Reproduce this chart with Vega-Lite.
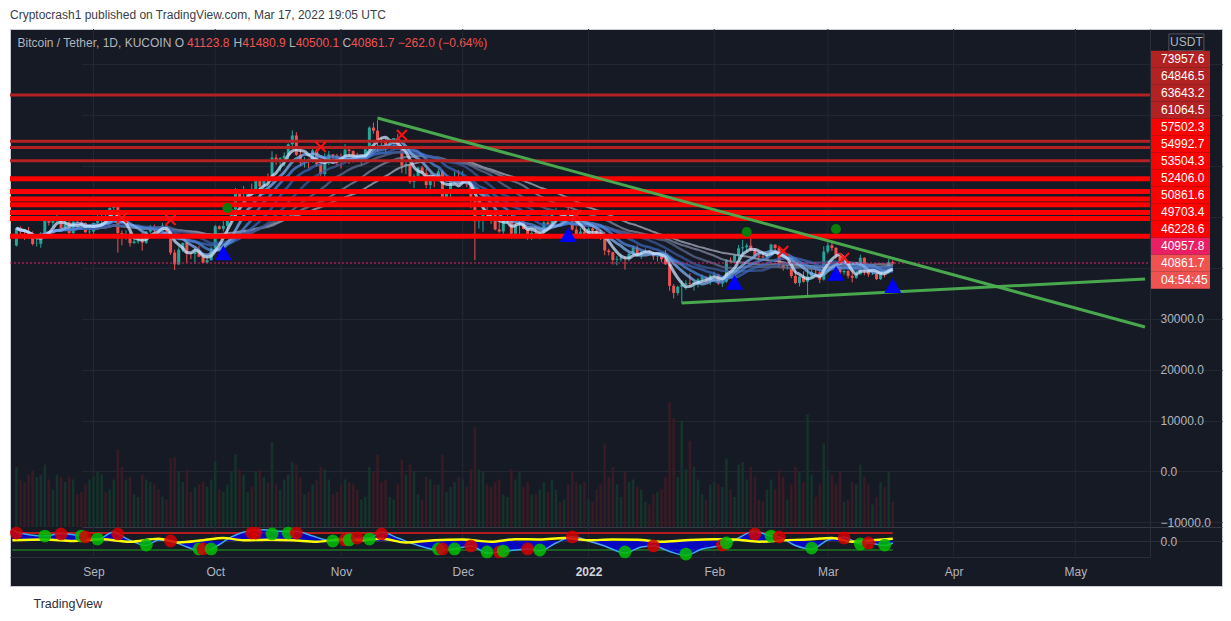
{
"$schema":"https://vega.github.io/schema/vega-lite/v6.json",
"width":1212,"height":557,
"autosize":{"type":"none"},
"padding":{"left":10,"top":29,"right":9,"bottom":35},
"background":"#ffffff",
"view":{"fill":"#161a25","stroke":"#c9ccd3","strokeWidth":1},
"config":{"font":"Liberation Sans"},
"title":{"text":"Cryptocrash1 published on TradingView.com, Mar 17, 2022 19:05 UTC","anchor":"start","frame":"group","orient":"top","offset":7,"font":"Liberation Sans","fontSize":12,"fontWeight":"normal","color":"#3a3e4a"},
"datasets":{
"k":[
{"d":"2021-08-13","o":44400,"h":47900,"l":44200,"c":47820,"v":48},
{"d":"2021-08-14","o":47820,"h":48150,"l":45980,"c":47090,"v":38},
{"d":"2021-08-15","o":47090,"h":47400,"l":45500,"c":47020,"v":36},
{"d":"2021-08-16","o":47020,"h":48050,"l":45700,"c":45930,"v":42},
{"d":"2021-08-17","o":45930,"h":47150,"l":44400,"c":44690,"v":45},
{"d":"2021-08-18","o":44690,"h":46000,"l":44200,"c":44720,"v":40},
{"d":"2021-08-19","o":44720,"h":47050,"l":43950,"c":46760,"v":42},
{"d":"2021-08-20","o":46760,"h":49350,"l":46650,"c":49320,"v":50},
{"d":"2021-08-21","o":49320,"h":49800,"l":48300,"c":48870,"v":38},
{"d":"2021-08-22","o":48870,"h":49500,"l":48000,"c":49290,"v":30},
{"d":"2021-08-23","o":49290,"h":50500,"l":49000,"c":49530,"v":42},
{"d":"2021-08-24","o":49530,"h":49850,"l":47600,"c":47700,"v":40},
{"d":"2021-08-25","o":47700,"h":49250,"l":47150,"c":48960,"v":36},
{"d":"2021-08-26","o":48960,"h":49350,"l":46350,"c":46850,"v":40},
{"d":"2021-08-27","o":46850,"h":49200,"l":46400,"c":49070,"v":38},
{"d":"2021-08-28","o":49070,"h":49300,"l":48400,"c":48900,"v":26},
{"d":"2021-08-29","o":48900,"h":49650,"l":47800,"c":48800,"v":28},
{"d":"2021-08-30","o":48800,"h":48900,"l":46900,"c":46990,"v":34},
{"d":"2021-08-31","o":46990,"h":48250,"l":46700,"c":47130,"v":38},
{"d":"2021-09-01","o":47130,"h":48850,"l":46550,"c":48830,"v":40},
{"d":"2021-09-02","o":48830,"h":50350,"l":48650,"c":49280,"v":44},
{"d":"2021-09-03","o":49280,"h":51050,"l":48400,"c":50030,"v":42},
{"d":"2021-09-04","o":50030,"h":50550,"l":49500,"c":49940,"v":28},
{"d":"2021-09-05","o":49940,"h":51900,"l":49500,"c":51790,"v":30},
{"d":"2021-09-06","o":51790,"h":52900,"l":50950,"c":52700,"v":38},
{"d":"2021-09-07","o":52700,"h":52920,"l":43000,"c":46860,"v":62},
{"d":"2021-09-08","o":46860,"h":47350,"l":44400,"c":46080,"v":48},
{"d":"2021-09-09","o":46080,"h":47400,"l":45500,"c":46400,"v":38},
{"d":"2021-09-10","o":46400,"h":47050,"l":44150,"c":44850,"v":40},
{"d":"2021-09-11","o":44850,"h":45950,"l":44750,"c":45170,"v":26},
{"d":"2021-09-12","o":45170,"h":46450,"l":44750,"c":46030,"v":24},
{"d":"2021-09-13","o":46030,"h":46850,"l":43400,"c":44950,"v":42},
{"d":"2021-09-14","o":44950,"h":47250,"l":44700,"c":47110,"v":38},
{"d":"2021-09-15","o":47110,"h":48450,"l":46750,"c":48150,"v":36},
{"d":"2021-09-16","o":48150,"h":48500,"l":47050,"c":47760,"v":34},
{"d":"2021-09-17","o":47760,"h":48150,"l":46800,"c":47300,"v":30},
{"d":"2021-09-18","o":47300,"h":48800,"l":47050,"c":48300,"v":24},
{"d":"2021-09-19","o":48300,"h":48350,"l":46850,"c":47260,"v":22},
{"d":"2021-09-20","o":47260,"h":47350,"l":42550,"c":43000,"v":55},
{"d":"2021-09-21","o":43000,"h":43600,"l":39600,"c":40700,"v":56},
{"d":"2021-09-22","o":40700,"h":44000,"l":40550,"c":43570,"v":44},
{"d":"2021-09-23","o":43570,"h":44950,"l":43100,"c":44900,"v":36},
{"d":"2021-09-24","o":44900,"h":45100,"l":40900,"c":42840,"v":46},
{"d":"2021-09-25","o":42840,"h":42950,"l":41700,"c":42720,"v":28},
{"d":"2021-09-26","o":42720,"h":43900,"l":40800,"c":43210,"v":32},
{"d":"2021-09-27","o":43210,"h":44350,"l":42100,"c":42200,"v":34},
{"d":"2021-09-28","o":42200,"h":42800,"l":40900,"c":41030,"v":36},
{"d":"2021-09-29","o":41030,"h":42650,"l":40800,"c":41520,"v":32},
{"d":"2021-09-30","o":41520,"h":44100,"l":41450,"c":43790,"v":38},
{"d":"2021-10-01","o":43790,"h":48450,"l":43300,"c":48150,"v":52},
{"d":"2021-10-02","o":48150,"h":48350,"l":47450,"c":47660,"v":30},
{"d":"2021-10-03","o":47660,"h":49250,"l":47150,"c":48230,"v":28},
{"d":"2021-10-04","o":48230,"h":49550,"l":46950,"c":49250,"v":34},
{"d":"2021-10-05","o":49250,"h":51900,"l":49050,"c":51490,"v":44},
{"d":"2021-10-06","o":51490,"h":55700,"l":50400,"c":55340,"v":58},
{"d":"2021-10-07","o":55340,"h":55350,"l":53400,"c":53800,"v":46},
{"d":"2021-10-08","o":53800,"h":56100,"l":53650,"c":53970,"v":42},
{"d":"2021-10-09","o":53970,"h":55450,"l":53700,"c":54960,"v":28},
{"d":"2021-10-10","o":54960,"h":56550,"l":54100,"c":54690,"v":32},
{"d":"2021-10-11","o":54690,"h":57850,"l":54450,"c":57480,"v":44},
{"d":"2021-10-12","o":57480,"h":57680,"l":53900,"c":56010,"v":46},
{"d":"2021-10-13","o":56010,"h":57700,"l":54300,"c":57370,"v":40},
{"d":"2021-10-14","o":57370,"h":58550,"l":56850,"c":57350,"v":36},
{"d":"2021-10-15","o":57350,"h":62900,"l":56850,"c":61670,"v":68},
{"d":"2021-10-16","o":61670,"h":62350,"l":60200,"c":60880,"v":34},
{"d":"2021-10-17","o":60880,"h":61750,"l":58950,"c":61530,"v":30},
{"d":"2021-10-18","o":61530,"h":62700,"l":60000,"c":62010,"v":38},
{"d":"2021-10-19","o":62010,"h":64450,"l":61350,"c":64280,"v":42},
{"d":"2021-10-20","o":64280,"h":67000,"l":63500,"c":66000,"v":52},
{"d":"2021-10-21","o":66000,"h":66650,"l":62000,"c":62210,"v":50},
{"d":"2021-10-22","o":62210,"h":63700,"l":60000,"c":60690,"v":40},
{"d":"2021-10-23","o":60690,"h":61750,"l":59700,"c":61300,"v":26},
{"d":"2021-10-24","o":61300,"h":61500,"l":59550,"c":60860,"v":28},
{"d":"2021-10-25","o":60860,"h":63700,"l":60650,"c":63080,"v":34},
{"d":"2021-10-26","o":63080,"h":63300,"l":59850,"c":60330,"v":38},
{"d":"2021-10-27","o":60330,"h":61500,"l":58000,"c":58450,"v":48},
{"d":"2021-10-28","o":58450,"h":62500,"l":57800,"c":60590,"v":46},
{"d":"2021-10-29","o":60590,"h":62950,"l":60200,"c":62270,"v":38},
{"d":"2021-10-30","o":62270,"h":62350,"l":60700,"c":61890,"v":26},
{"d":"2021-10-31","o":61890,"h":62400,"l":60050,"c":61300,"v":28},
{"d":"2021-11-01","o":61300,"h":62450,"l":59500,"c":61000,"v":34},
{"d":"2021-11-02","o":61000,"h":64300,"l":60650,"c":63230,"v":38},
{"d":"2021-11-03","o":63230,"h":63500,"l":60400,"c":62940,"v":36},
{"d":"2021-11-04","o":62940,"h":63100,"l":60700,"c":61440,"v":34},
{"d":"2021-11-05","o":61440,"h":62600,"l":60800,"c":61010,"v":30},
{"d":"2021-11-06","o":61010,"h":61600,"l":60150,"c":61530,"v":22},
{"d":"2021-11-07","o":61530,"h":63300,"l":61350,"c":63300,"v":24},
{"d":"2021-11-08","o":63300,"h":67800,"l":63100,"c":67550,"v":48},
{"d":"2021-11-09","o":67550,"h":68550,"l":66350,"c":66940,"v":44},
{"d":"2021-11-10","o":66940,"h":69000,"l":62800,"c":64880,"v":58},
{"d":"2021-11-11","o":64880,"h":65600,"l":64100,"c":64810,"v":36},
{"d":"2021-11-12","o":64810,"h":65500,"l":62300,"c":64150,"v":38},
{"d":"2021-11-13","o":64150,"h":65000,"l":63400,"c":64400,"v":24},
{"d":"2021-11-14","o":64400,"h":65500,"l":63600,"c":65500,"v":22},
{"d":"2021-11-15","o":65500,"h":66300,"l":63400,"c":63600,"v":34},
{"d":"2021-11-16","o":63600,"h":63600,"l":58600,"c":60080,"v":54},
{"d":"2021-11-17","o":60080,"h":60800,"l":58400,"c":60370,"v":42},
{"d":"2021-11-18","o":60370,"h":60950,"l":56500,"c":56890,"v":50},
{"d":"2021-11-19","o":56890,"h":58400,"l":55650,"c":58060,"v":44},
{"d":"2021-11-20","o":58060,"h":59850,"l":57400,"c":59710,"v":26},
{"d":"2021-11-21","o":59710,"h":60050,"l":58500,"c":58620,"v":22},
{"d":"2021-11-22","o":58620,"h":59450,"l":55650,"c":56280,"v":40},
{"d":"2021-11-23","o":56280,"h":57850,"l":55350,"c":57540,"v":38},
{"d":"2021-11-24","o":57540,"h":57750,"l":55850,"c":57160,"v":34},
{"d":"2021-11-25","o":57160,"h":59400,"l":56950,"c":58960,"v":34},
{"d":"2021-11-26","o":58960,"h":59200,"l":53550,"c":53730,"v":58},
{"d":"2021-11-27","o":53730,"h":55300,"l":53650,"c":54720,"v":28},
{"d":"2021-11-28","o":54720,"h":57400,"l":53350,"c":57270,"v":32},
{"d":"2021-11-29","o":57270,"h":58850,"l":56750,"c":57800,"v":36},
{"d":"2021-11-30","o":57800,"h":59200,"l":56500,"c":56950,"v":40},
{"d":"2021-12-01","o":56950,"h":59050,"l":56500,"c":57180,"v":38},
{"d":"2021-12-02","o":57180,"h":57400,"l":55850,"c":56480,"v":32},
{"d":"2021-12-03","o":56480,"h":57600,"l":51700,"c":53600,"v":46},
{"d":"2021-12-04","o":53600,"h":53850,"l":41500,"c":49150,"v":80},
{"d":"2021-12-05","o":49150,"h":49700,"l":47700,"c":49390,"v":46},
{"d":"2021-12-06","o":49390,"h":50950,"l":47100,"c":50570,"v":44},
{"d":"2021-12-07","o":50570,"h":51950,"l":50050,"c":50540,"v":34},
{"d":"2021-12-08","o":50540,"h":51200,"l":48650,"c":50480,"v":32},
{"d":"2021-12-09","o":50480,"h":50800,"l":47350,"c":47550,"v":36},
{"d":"2021-12-10","o":47550,"h":50100,"l":46900,"c":47140,"v":38},
{"d":"2021-12-11","o":47140,"h":49450,"l":46650,"c":49370,"v":26},
{"d":"2021-12-12","o":49370,"h":50800,"l":48700,"c":50100,"v":24},
{"d":"2021-12-13","o":50100,"h":50400,"l":45700,"c":46700,"v":46},
{"d":"2021-12-14","o":46700,"h":48700,"l":46300,"c":48350,"v":38},
{"d":"2021-12-15","o":48350,"h":49500,"l":46550,"c":48880,"v":44},
{"d":"2021-12-16","o":48880,"h":49450,"l":47550,"c":47630,"v":32},
{"d":"2021-12-17","o":47630,"h":47950,"l":45500,"c":46170,"v":36},
{"d":"2021-12-18","o":46170,"h":47300,"l":45500,"c":46850,"v":26},
{"d":"2021-12-19","o":46850,"h":48300,"l":46450,"c":46690,"v":26},
{"d":"2021-12-20","o":46690,"h":47550,"l":45600,"c":46910,"v":30},
{"d":"2021-12-21","o":46910,"h":49300,"l":46650,"c":48920,"v":36},
{"d":"2021-12-22","o":48920,"h":49550,"l":48450,"c":48610,"v":28},
{"d":"2021-12-23","o":48610,"h":51350,"l":48050,"c":50820,"v":38},
{"d":"2021-12-24","o":50820,"h":51800,"l":50450,"c":50840,"v":30},
{"d":"2021-12-25","o":50840,"h":51150,"l":50200,"c":50410,"v":20},
{"d":"2021-12-26","o":50410,"h":51250,"l":49450,"c":50800,"v":22},
{"d":"2021-12-27","o":50800,"h":52050,"l":50500,"c":50700,"v":34},
{"d":"2021-12-28","o":50700,"h":50700,"l":47350,"c":47540,"v":44},
{"d":"2021-12-29","o":47540,"h":48150,"l":46100,"c":46460,"v":36},
{"d":"2021-12-30","o":46460,"h":47900,"l":45900,"c":47120,"v":34},
{"d":"2021-12-31","o":47120,"h":48550,"l":45700,"c":46210,"v":36},
{"d":"2022-01-01","o":46210,"h":47950,"l":46200,"c":47720,"v":22},
{"d":"2022-01-02","o":47720,"h":47990,"l":46650,"c":47310,"v":20},
{"d":"2022-01-03","o":47310,"h":47550,"l":45700,"c":46440,"v":30},
{"d":"2022-01-04","o":46440,"h":47500,"l":45500,"c":45830,"v":34},
{"d":"2022-01-05","o":45830,"h":47100,"l":42500,"c":43420,"v":67},
{"d":"2022-01-06","o":43420,"h":43750,"l":42450,"c":43080,"v":40},
{"d":"2022-01-07","o":43080,"h":43150,"l":40650,"c":41550,"v":48},
{"d":"2022-01-08","o":41550,"h":42300,"l":40500,"c":41680,"v":34},
{"d":"2022-01-09","o":41680,"h":42800,"l":41250,"c":41860,"v":24},
{"d":"2022-01-10","o":41860,"h":42250,"l":39650,"c":41820,"v":44},
{"d":"2022-01-11","o":41820,"h":43100,"l":41300,"c":42740,"v":36},
{"d":"2022-01-12","o":42740,"h":44350,"l":42450,"c":43920,"v":38},
{"d":"2022-01-13","o":43920,"h":44450,"l":42300,"c":42590,"v":32},
{"d":"2022-01-14","o":42590,"h":43450,"l":41750,"c":43100,"v":30},
{"d":"2022-01-15","o":43100,"h":43800,"l":42600,"c":43180,"v":20},
{"d":"2022-01-16","o":43180,"h":43500,"l":42650,"c":43090,"v":18},
{"d":"2022-01-17","o":43090,"h":43200,"l":41550,"c":42250,"v":26},
{"d":"2022-01-18","o":42250,"h":42700,"l":41250,"c":42380,"v":28},
{"d":"2022-01-19","o":42380,"h":42550,"l":41100,"c":41690,"v":30},
{"d":"2022-01-20","o":41690,"h":43500,"l":40600,"c":40700,"v":40},
{"d":"2022-01-21","o":40700,"h":41100,"l":35500,"c":36470,"v":100},
{"d":"2022-01-22","o":36470,"h":36800,"l":34000,"c":35070,"v":87},
{"d":"2022-01-23","o":35070,"h":36500,"l":34600,"c":36280,"v":40},
{"d":"2022-01-24","o":36280,"h":37550,"l":33000,"c":36690,"v":85},
{"d":"2022-01-25","o":36690,"h":37550,"l":35700,"c":36960,"v":46},
{"d":"2022-01-26","o":36960,"h":38950,"l":36250,"c":36830,"v":69},
{"d":"2022-01-27","o":36830,"h":37250,"l":35550,"c":37190,"v":48},
{"d":"2022-01-28","o":37190,"h":38000,"l":36150,"c":37720,"v":38},
{"d":"2022-01-29","o":37720,"h":38700,"l":37300,"c":38170,"v":26},
{"d":"2022-01-30","o":38170,"h":38350,"l":37350,"c":37920,"v":22},
{"d":"2022-01-31","o":37920,"h":38750,"l":36650,"c":38480,"v":34},
{"d":"2022-02-01","o":38480,"h":39250,"l":38000,"c":38740,"v":36},
{"d":"2022-02-02","o":38740,"h":38850,"l":36600,"c":36950,"v":34},
{"d":"2022-02-03","o":36950,"h":37400,"l":36250,"c":37310,"v":32},
{"d":"2022-02-04","o":37310,"h":41750,"l":37050,"c":41570,"v":55},
{"d":"2022-02-05","o":41570,"h":42050,"l":41100,"c":41410,"v":30},
{"d":"2022-02-06","o":41410,"h":42650,"l":41150,"c":42410,"v":24},
{"d":"2022-02-07","o":42410,"h":44500,"l":41700,"c":43840,"v":50},
{"d":"2022-02-08","o":43840,"h":45500,"l":42650,"c":44040,"v":52},
{"d":"2022-02-09","o":44040,"h":44800,"l":43150,"c":44380,"v":38},
{"d":"2022-02-10","o":44380,"h":45800,"l":43200,"c":43510,"v":48},
{"d":"2022-02-11","o":43510,"h":43900,"l":42000,"c":42370,"v":40},
{"d":"2022-02-12","o":42370,"h":43000,"l":41800,"c":42230,"v":22},
{"d":"2022-02-13","o":42230,"h":42750,"l":41850,"c":42060,"v":20},
{"d":"2022-02-14","o":42060,"h":42850,"l":41600,"c":42540,"v":30},
{"d":"2022-02-15","o":42540,"h":44750,"l":42450,"c":44570,"v":38},
{"d":"2022-02-16","o":44570,"h":44600,"l":43300,"c":43890,"v":30},
{"d":"2022-02-17","o":43890,"h":44200,"l":40100,"c":40520,"v":46},
{"d":"2022-02-18","o":40520,"h":40950,"l":39450,"c":40000,"v":40},
{"d":"2022-02-19","o":40000,"h":40450,"l":39650,"c":40120,"v":22},
{"d":"2022-02-20","o":40120,"h":40150,"l":38000,"c":38400,"v":34},
{"d":"2022-02-21","o":38400,"h":39450,"l":36800,"c":37020,"v":48},
{"d":"2022-02-22","o":37020,"h":38450,"l":36350,"c":38250,"v":44},
{"d":"2022-02-23","o":38250,"h":39300,"l":37100,"c":37260,"v":36},
{"d":"2022-02-24","o":37260,"h":39850,"l":34350,"c":38330,"v":90},
{"d":"2022-02-25","o":38330,"h":39700,"l":38050,"c":39230,"v":42},
{"d":"2022-02-26","o":39230,"h":40300,"l":38550,"c":39130,"v":24},
{"d":"2022-02-27","o":39130,"h":39850,"l":37000,"c":37700,"v":34},
{"d":"2022-02-28","o":37700,"h":44250,"l":37500,"c":43190,"v":67},
{"d":"2022-03-01","o":43190,"h":44950,"l":42800,"c":44420,"v":46},
{"d":"2022-03-02","o":44420,"h":45400,"l":43350,"c":43920,"v":42},
{"d":"2022-03-03","o":43920,"h":44100,"l":41850,"c":42450,"v":34},
{"d":"2022-03-04","o":42450,"h":42500,"l":38650,"c":39140,"v":44},
{"d":"2022-03-05","o":39140,"h":39650,"l":38650,"c":39400,"v":20},
{"d":"2022-03-06","o":39400,"h":39650,"l":37950,"c":38420,"v":22},
{"d":"2022-03-07","o":38420,"h":39550,"l":37150,"c":38060,"v":36},
{"d":"2022-03-08","o":38060,"h":39400,"l":37850,"c":38740,"v":34},
{"d":"2022-03-09","o":38740,"h":42600,"l":38650,"c":41980,"v":50},
{"d":"2022-03-10","o":41980,"h":42050,"l":38550,"c":39440,"v":40},
{"d":"2022-03-11","o":39440,"h":40250,"l":38250,"c":38730,"v":34},
{"d":"2022-03-12","o":38730,"h":39350,"l":38650,"c":38810,"v":18},
{"d":"2022-03-13","o":38810,"h":39300,"l":37600,"c":37790,"v":24},
{"d":"2022-03-14","o":37790,"h":39950,"l":37600,"c":39670,"v":36},
{"d":"2022-03-15","o":39670,"h":39900,"l":38150,"c":39280,"v":32},
{"d":"2022-03-16","o":39280,"h":41700,"l":38850,"c":41120,"v":44},
{"d":"2022-03-17","o":41123.8,"h":41480.9,"l":40500.1,"c":40861.7,"v":20}
],
"mo":[{"d":"2021-09-01"},{"d":"2021-10-01"},{"d":"2021-11-01"},{"d":"2021-12-01"},{"d":"2022-01-01"},{"d":"2022-02-01"},{"d":"2022-03-01"},{"d":"2022-04-01"},{"d":"2022-05-01"}],
"lv":[
{"p":73957.6,"k":"dark","d":"2021-08-01","d2":"2022-06-30"},
{"p":64846.5,"k":"dark","d":"2021-08-01","d2":"2022-06-30"},
{"p":63643.2,"k":"dark","d":"2021-08-01","d2":"2022-06-30"},
{"p":61064.5,"k":"dark","d":"2021-08-01","d2":"2022-06-30"},
{"p":57502.3,"k":"bright","d":"2021-08-01","d2":"2022-06-30"},
{"p":54992.7,"k":"bright","d":"2021-08-01","d2":"2022-06-30"},
{"p":53504.3,"k":"bright","d":"2021-08-01","d2":"2022-06-30"},
{"p":52406.0,"k":"bright","d":"2021-08-01","d2":"2022-06-30"},
{"p":50861.6,"k":"bright","d":"2021-08-01","d2":"2022-06-30"},
{"p":49703.4,"k":"bright","d":"2021-08-01","d2":"2022-06-30"},
{"p":46228.6,"k":"bright","d":"2021-08-01","d2":"2022-06-30"},
{"p":40957.8,"k":"cur","d":"2021-08-01","d2":"2022-06-30"}
],
"tl":[
{"g":"down","d":"2021-11-10","p":69437},
{"g":"down","d":"2022-05-18T04:05:00Z","p":28384},
{"g":"up","d":"2022-01-24","p":33098},
{"g":"up","d":"2022-05-18T04:05:00Z","p":37813}
],
"mk":[
{"t":"x","d":"2021-09-08","p":49795},{"t":"x","d":"2021-09-20","p":49402},{"t":"x","d":"2021-10-27","p":63741},{"t":"x","d":"2021-11-16","p":66098},{"t":"x","d":"2021-12-29","p":50384},{"t":"x","d":"2022-02-18","p":43312},{"t":"x","d":"2022-03-05","p":41937},
{"t":"g","d":"2021-10-04","p":51759},{"t":"g","d":"2022-02-09","p":47045},{"t":"g","d":"2022-03-03","p":47634},
{"t":"b","d":"2021-10-03","p":42920},{"t":"b","d":"2021-12-27","p":46514},{"t":"b","d":"2022-02-06","p":37164},{"t":"b","d":"2022-03-03","p":38932},{"t":"b","d":"2022-03-17","p":36497}
],
"osc":[
{"d":"2021-08-12","w":0.8},{"d":"2021-08-13","w":0.6},{"d":"2021-08-20","w":0.33},{"d":"2021-08-24","w":0.5},{"d":"2021-08-29","w":0.33},{"d":"2021-09-02","w":0.13},{"d":"2021-09-06","w":0.6},{"d":"2021-09-07","w":0.47},{"d":"2021-09-11","w":-0.07},{"d":"2021-09-14","w":-0.3},{"d":"2021-09-17","w":0.07},{"d":"2021-09-20","w":0},{"d":"2021-09-24","w":-0.4},{"d":"2021-09-28","w":-0.7},{"d":"2021-10-01","w":-0.4},{"d":"2021-10-05","w":0.27},{"d":"2021-10-09","w":0.65},{"d":"2021-10-13","w":0.75},{"d":"2021-10-17","w":0.65},{"d":"2021-10-21","w":0.65},{"d":"2021-10-25","w":0.33},{"d":"2021-10-30","w":0},{"d":"2021-11-03","w":0.07},{"d":"2021-11-05","w":0.2},{"d":"2021-11-08","w":0.2},{"d":"2021-11-11","w":0.6},{"d":"2021-11-15","w":0.2},{"d":"2021-11-20","w":-0.3},{"d":"2021-11-25","w":-0.6},{"d":"2021-11-29","w":-0.53},{"d":"2021-12-03","w":-0.33},{"d":"2021-12-07","w":-0.8},{"d":"2021-12-11","w":-0.7},{"d":"2021-12-14","w":-0.6},{"d":"2021-12-17","w":-0.53},{"d":"2021-12-20","w":-0.65},{"d":"2021-12-24","w":-0.13},{"d":"2021-12-28","w":0.3},{"d":"2022-01-01","w":0},{"d":"2022-01-05","w":-0.33},{"d":"2022-01-10","w":-0.8},{"d":"2022-01-14","w":-0.4},{"d":"2022-01-17","w":-0.33},{"d":"2022-01-21","w":-0.7},{"d":"2022-01-25","w":-0.95},{"d":"2022-01-29","w":-0.53},{"d":"2022-02-03","w":-0.27},{"d":"2022-02-06","w":0.07},{"d":"2022-02-11","w":0.65},{"d":"2022-02-15","w":0.33},{"d":"2022-02-17","w":0.27},{"d":"2022-02-21","w":-0.3},{"d":"2022-02-25","w":-0.55},{"d":"2022-03-01","w":0.07},{"d":"2022-03-05","w":0.25},{"d":"2022-03-09","w":-0.2},{"d":"2022-03-11","w":-0.13},{"d":"2022-03-15","w":-0.3},{"d":"2022-03-17","w":-0.13}
],
"yel":[
{"d":"2021-08-12","y":0.05},{"d":"2021-08-20","y":0.1},{"d":"2021-08-27","y":0.0},{"d":"2021-09-03","y":0.12},{"d":"2021-09-10","y":-0.05},{"d":"2021-09-17","y":0.15},{"d":"2021-09-22","y":-0.1},{"d":"2021-09-28","y":0.05},{"d":"2021-10-03","y":0.2},{"d":"2021-10-08","y":0.05},{"d":"2021-10-14","y":0.08},{"d":"2021-10-20","y":0.05},{"d":"2021-10-26","y":-0.05},{"d":"2021-11-01","y":0.1},{"d":"2021-11-06","y":0.05},{"d":"2021-11-11","y":0.15},{"d":"2021-11-17","y":-0.1},{"d":"2021-11-24","y":0.05},{"d":"2021-12-01","y":0.1},{"d":"2021-12-08","y":-0.05},{"d":"2021-12-14","y":0.12},{"d":"2021-12-20","y":0.1},{"d":"2021-12-26","y":0.2},{"d":"2022-01-01","y":0.05},{"d":"2022-01-07","y":0.1},{"d":"2022-01-13","y":0.08},{"d":"2022-01-19","y":-0.05},{"d":"2022-01-25","y":0.05},{"d":"2022-02-01","y":0.12},{"d":"2022-02-06","y":0.1},{"d":"2022-02-12","y":-0.05},{"d":"2022-02-18","y":0.05},{"d":"2022-02-24","y":0.1},{"d":"2022-03-02","y":0.2},{"d":"2022-03-07","y":-0.05},{"d":"2022-03-12","y":0.05},{"d":"2022-03-17","y":0.15}
],
"dots":[
{"d":"2021-08-13","w":0.53,"c":"r"},{"d":"2021-08-20","w":0.33,"c":"g"},{"d":"2021-08-24","w":0.47,"c":"r"},{"d":"2021-08-29","w":0.33,"c":"g"},{"d":"2021-08-30","w":0.27,"c":"r"},{"d":"2021-09-02","w":0.13,"c":"g"},{"d":"2021-09-07","w":0.47,"c":"r"},{"d":"2021-09-14","w":-0.27,"c":"g"},{"d":"2021-09-20","w":0,"c":"r"},{"d":"2021-09-27","w":-0.53,"c":"g"},{"d":"2021-09-28","w":-0.53,"c":"r"},{"d":"2021-09-30","w":-0.53,"c":"g"},{"d":"2021-10-10","w":0.53,"c":"r"},{"d":"2021-10-11","w":0.53,"c":"r"},{"d":"2021-10-15","w":0.47,"c":"g"},{"d":"2021-10-19","w":0.53,"c":"g"},{"d":"2021-10-21","w":0.53,"c":"r"},{"d":"2021-10-30","w":0,"c":"g"},{"d":"2021-11-02","w":0.07,"c":"r"},{"d":"2021-11-03","w":0.07,"c":"g"},{"d":"2021-11-05","w":0.2,"c":"r"},{"d":"2021-11-08","w":0.13,"c":"g"},{"d":"2021-11-11","w":0.47,"c":"r"},{"d":"2021-11-25","w":-0.53,"c":"g"},{"d":"2021-11-26","w":-0.53,"c":"r"},{"d":"2021-11-29","w":-0.53,"c":"g"},{"d":"2021-12-03","w":-0.33,"c":"r"},{"d":"2021-12-07","w":-0.73,"c":"g"},{"d":"2021-12-10","w":-0.73,"c":"r"},{"d":"2021-12-11","w":-0.67,"c":"g"},{"d":"2021-12-17","w":-0.53,"c":"r"},{"d":"2021-12-20","w":-0.6,"c":"g"},{"d":"2021-12-28","w":0.27,"c":"r"},{"d":"2022-01-10","w":-0.73,"c":"g"},{"d":"2022-01-17","w":-0.33,"c":"r"},{"d":"2022-01-25","w":-0.87,"c":"g"},{"d":"2022-02-03","w":-0.27,"c":"r"},{"d":"2022-02-04","w":-0.13,"c":"g"},{"d":"2022-02-11","w":0.47,"c":"r"},{"d":"2022-02-15","w":0.33,"c":"g"},{"d":"2022-02-17","w":0.27,"c":"r"},{"d":"2022-02-25","w":-0.47,"c":"g"},{"d":"2022-03-05","w":0.2,"c":"r"},{"d":"2022-03-09","w":-0.2,"c":"g"},{"d":"2022-03-11","w":-0.13,"c":"r"},{"d":"2022-03-15","w":-0.27,"c":"g"}
],
"lb":[
{"t":"USDT","k":"hdr"},{"t":"73957.6","k":"dark"},{"t":"64846.5","k":"dark"},{"t":"63643.2","k":"dark"},{"t":"61064.5","k":"dark"},{"t":"57502.3","k":"bright"},{"t":"54992.7","k":"bright"},{"t":"53504.3","k":"bright"},{"t":"52406.0","k":"bright"},{"t":"50861.6","k":"bright"},{"t":"49703.4","k":"bright"},{"t":"46228.6","k":"bright"},{"t":"40957.8","k":"cur"},{"t":"40861.7","k":"last"},{"t":"04:54:45","k":"last"}
]
},
"resolve":{"scale":{"x":"independent","y":"independent","color":"independent"}},
"layer":[
{
"encoding":{"x":{"field":"d","type":"temporal",
 "scale":{"type":"utc","domain":[{"year":2021,"month":8,"date":12,"hours":15,"minutes":36,"utc":true},{"year":2022,"month":5,"date":18,"hours":4,"minutes":5,"utc":true}],"range":[0,1140],"clamp":true,"nice":false},
 "axis":{"orient":"bottom","offset":-29,"grid":false,"ticks":false,"domain":true,"domainColor":"#2a2e39","labelPadding":9,"labelFont":"Liberation Sans","labelFontSize":12,
  "labelColor":{"condition":{"test":"utcmonth(datum.value)==0","value":"#d1d4dc"},"value":"#b2b5be"},
  "labelFontWeight":{"condition":{"test":"utcmonth(datum.value)==0","value":"bold"},"value":"normal"},
  "labelExpr":"utcmonth(datum.value)==0 ? utcFormat(datum.value,'%Y') : utcFormat(datum.value,'%b')",
  "values":[{"year":2021,"month":9,"date":1,"utc":true},{"year":2021,"month":10,"date":1,"utc":true},{"year":2021,"month":11,"date":1,"utc":true},{"year":2021,"month":12,"date":1,"utc":true},{"year":2022,"month":1,"date":1,"utc":true},{"year":2022,"month":2,"date":1,"utc":true},{"year":2022,"month":3,"date":1,"utc":true},{"year":2022,"month":4,"date":1,"utc":true},{"year":2022,"month":5,"date":1,"utc":true}],
  "labelOverlap":false,"labelFlush":false,
  "title":"TradingView","titleX":23,"titleY":46,"titleAlign":"left","titleBaseline":"middle","titleAngle":0,"titleColor":"#2a2e39","titleFont":"Liberation Sans","titleFontSize":12.5,"titleFontWeight":"normal","titleLimit":1000}}},
"resolve":{"scale":{"y":"independent","color":"independent"}},
"layer":[
 {"layer":[
  {"data":{"name":"mo"},"mark":{"type":"rule","color":"#232734","strokeWidth":1},
   "encoding":{"y":{"datum":86920,"type":"quantitative","scale":{"domain":[-10902,86920],"range":[498,0],"nice":false,"zero":false}},"y2":{"datum":-16598}}},
  {"data":{"name":"k"},"mark":{"type":"rule","strokeWidth":1},
   "encoding":{"y":{"field":"l","type":"quantitative","scale":{"domain":[-10902,86920],"range":[498,0],"nice":false,"zero":false},
     "axis":{"orient":"right","offset":-72,"values":[-10000,0,10000,20000,30000,40000,50000,60000,70000,80000],"labelExpr":"datum.value <= 30000 ? format(datum.value,'.1f') : ''","grid":true,"gridColor":"#232734","ticks":false,"domain":true,"domainColor":"#2a2e39","labelPadding":10,"labelFont":"Liberation Sans","labelFontSize":12,"labelColor":"#b2b5be","labelFlush":false,"labelOverlap":false,
      "title":"C","titleX":-808.1,"titleY":13,"titleAlign":"left","titleBaseline":"middle","titleAngle":0,"titleColor":"#b2b5be","titleFont":"Liberation Sans","titleFontSize":12,"titleFontWeight":"normal","titleLimit":1000}},
    "y2":{"field":"h"},
    "color":{"condition":{"test":"datum.o <= datum.c","value":"#26a69a"},"value":"#ef5350"}}},
  {"data":{"name":"k"},"mark":{"type":"bar","width":3},
   "encoding":{"y":{"field":"o","type":"quantitative","scale":{"domain":[-10902,86920],"range":[498,0],"nice":false,"zero":false}},"y2":{"field":"c"},
    "color":{"condition":{"test":"datum.o <= datum.c","value":"#26a69a"},"value":"#ef5350"}}},
  {"data":{"name":"k"},
   "transform":[
    {"window":[{"op":"mean","field":"c","as":"m1"}],"frame":[-4,0],"sort":[{"field":"d"}]},
    {"window":[{"op":"mean","field":"c","as":"m2"}],"frame":[-8,0],"sort":[{"field":"d"}]},
    {"window":[{"op":"mean","field":"c","as":"m3"}],"frame":[-12,0],"sort":[{"field":"d"}]},
    {"window":[{"op":"mean","field":"c","as":"m4"}],"frame":[-17,0],"sort":[{"field":"d"}]},
    {"window":[{"op":"mean","field":"c","as":"m5"}],"frame":[-23,0],"sort":[{"field":"d"}]},
    {"window":[{"op":"mean","field":"c","as":"m6"}],"frame":[-30,0],"sort":[{"field":"d"}]},
    {"window":[{"op":"mean","field":"c","as":"m7"}],"frame":[-38,0],"sort":[{"field":"d"}]},
    {"window":[{"op":"mean","field":"c","as":"m8"}],"frame":[-46,0],"sort":[{"field":"d"}]},
    {"fold":["m8","m7","m6","m5","m4","m3","m2","m1"],"as":["mk","mv"]}],
   "mark":{"type":"line","interpolate":"monotone","opacity":0.75},
   "encoding":{"y":{"field":"mv","type":"quantitative","scale":{"domain":[-10902,86920],"range":[498,0],"nice":false,"zero":false}},
    "color":{"field":"mk","type":"nominal","scale":{"domain":["m1","m2","m3","m4","m5","m6","m7","m8"],"range":["#c9e4ff","#7fb2f0","#4f86d9","#3a66b8","#3c5a9a","#5d6b90","#8089a3","#a7adbd"]},"legend":null},
    "strokeWidth":{"field":"mk","type":"nominal","scale":{"domain":["m1","m2","m3","m4","m5","m6","m7","m8"],"range":[3,2,2,2,2,2,2,2]},"legend":null}}},
  {"data":{"name":"lv"},"transform":[{"filter":"datum.k=='dark'"}],"mark":{"type":"rule","color":"#b22222","strokeWidth":3},
   "encoding":{"x2":{"field":"d2"},"y":{"field":"p","type":"quantitative","scale":{"domain":[-10902,86920],"range":[498,0],"nice":false,"zero":false}}}},
  {"data":{"name":"lv"},"transform":[{"filter":"datum.k=='bright'"}],"mark":{"type":"rule","color":"#ff0000","strokeWidth":5},
   "encoding":{"x2":{"field":"d2"},"y":{"field":"p","type":"quantitative","scale":{"domain":[-10902,86920],"range":[498,0],"nice":false,"zero":false}}}},
  {"data":{"name":"lv"},"transform":[{"filter":"datum.k=='cur'"}],"mark":{"type":"rule","color":"#e91e63","strokeWidth":1,"strokeDash":[2,2]},
   "encoding":{"x2":{"field":"d2"},"y":{"field":"p","type":"quantitative","scale":{"domain":[-10902,86920],"range":[498,0],"nice":false,"zero":false}}}},
  {"data":{"name":"tl"},"mark":{"type":"line","color":"#4caf50","strokeWidth":3,"opacity":0.95},
   "encoding":{"detail":{"field":"g"},"y":{"field":"p","type":"quantitative","scale":{"domain":[-10902,86920],"range":[498,0],"nice":false,"zero":false}}}},
  {"data":{"name":"mk"},"transform":[{"filter":"datum.t=='x'"}],"mark":{"type":"point","shape":"M-1,-1L1,1M1,-1L-1,1","size":100,"filled":false,"stroke":"#ff1010","strokeWidth":2,"opacity":1},
   "encoding":{"y":{"field":"p","type":"quantitative","scale":{"domain":[-10902,86920],"range":[498,0],"nice":false,"zero":false}}}},
  {"data":{"name":"mk"},"transform":[{"filter":"datum.t=='g'"}],"mark":{"type":"circle","size":100,"color":"#0a7d0a","opacity":1},
   "encoding":{"y":{"field":"p","type":"quantitative","scale":{"domain":[-10902,86920],"range":[498,0],"nice":false,"zero":false}}}},
  {"data":{"name":"mk"},"transform":[{"filter":"datum.t=='b'"}],"mark":{"type":"point","shape":"triangle-up","size":290,"filled":true,"color":"#0000ff","opacity":1},
   "encoding":{"y":{"field":"p","type":"quantitative","scale":{"domain":[-10902,86920],"range":[498,0],"nice":false,"zero":false}}}}
 ]},
 {"data":{"name":"k"},"mark":{"type":"bar","width":2.5},
  "encoding":{"y":{"field":"v","type":"quantitative","scale":{"domain":[0,100],"range":[498,373],"nice":false},
    "axis":{"orient":"right","offset":-72,"values":[0],"grid":true,"gridColor":"#363a45","labels":false,"ticks":false,"domain":false,
     "title":"40861.7\u00a0\u2212262.0\u00a0(\u22120.64%)","titleX":-799.4,"titleY":13,"titleAlign":"left","titleBaseline":"middle","titleAngle":0,"titleColor":"#ef5350","titleFont":"Liberation Sans","titleFontSize":12,"titleFontWeight":"normal","titleLimit":1000}},
   "color":{"condition":{"test":"datum.o <= datum.c","value":"#15332a"},"value":"#381b23"}}},
 {"layer":[
  {"data":{"name":"osc"},"mark":{"type":"line","color":"#b71c1c","strokeWidth":2},
   "encoding":{"y":{"datum":0.53,"type":"quantitative","scale":{"domain":[-1,1],"range":[527,497],"nice":false,"zero":false},
    "axis":{"orient":"right","offset":-72,"values":[0],"format":".1f","grid":true,"gridColor":"#2a2e39","ticks":false,"domain":true,"domainColor":"#2a2e39","labelPadding":10,"labelFont":"Liberation Sans","labelFontSize":12,"labelColor":"#b2b5be","title":null}}}},
  {"data":{"name":"osc"},"mark":{"type":"line","color":"#1b5e20","strokeWidth":2},
   "encoding":{"y":{"datum":-0.6,"type":"quantitative","scale":{"domain":[-1,1],"range":[527,497],"nice":false,"zero":false}}}},
  {"data":{"name":"osc"},"mark":{"type":"area","color":"#0000ff","interpolate":"monotone","line":{"color":"#42a5f5","strokeWidth":1.5}},
   "encoding":{"y":{"field":"w","type":"quantitative","scale":{"domain":[-1,1],"range":[527,497],"nice":false,"zero":false}}}},
  {"data":{"name":"yel"},"mark":{"type":"line","color":"#ffff00","strokeWidth":2.5,"interpolate":"monotone"},
   "encoding":{"y":{"field":"y","type":"quantitative","scale":{"domain":[-1,1],"range":[527,497],"nice":false,"zero":false}}}},
  {"data":{"name":"dots"},"mark":{"type":"circle","size":165,"opacity":0.85},
   "encoding":{"y":{"field":"w","type":"quantitative","scale":{"domain":[-1,1],"range":[527,497],"nice":false,"zero":false}},
    "color":{"field":"c","type":"nominal","scale":{"domain":["r","g"],"range":["#d50000","#00c000"]},"legend":null}}}
 ]}
]
},
{"data":{"name":"lb"},"transform":[{"filter":"datum.k != 'hdr'"}],"mark":{"type":"rect"},
 "encoding":{
  "x":{"datum":"a","type":"nominal","scale":{"type":"band","domain":["a"],"range":[1141,1200],"paddingInner":0,"paddingOuter":0},
   "axis":{"orient":"top","labels":false,"ticks":false,"domain":false,"grid":false,"title":"Bitcoin / Tether, 1D, KUCOIN O","titleX":7,"titleY":13,"titleAlign":"left","titleBaseline":"middle","titleAngle":0,"titleColor":"#b2b5be","titleFont":"Liberation Sans","titleFontSize":12,"titleFontWeight":"normal","titleLimit":1000}},
  "y":{"field":"t","type":"nominal","sort":null,"scale":{"type":"band","domain":["USDT","73957.6","64846.5","63643.2","61064.5","57502.3","54992.7","53504.3","52406.0","50861.6","49703.4","46228.6","40957.8","40861.7","04:54:45"],"range":[4.8,259.8],"paddingInner":0,"paddingOuter":0},
   "axis":{"orient":"left","labels":false,"ticks":false,"domain":false,"grid":false,"title":"41123.8","titleX":176.4,"titleY":13,"titleAlign":"left","titleBaseline":"middle","titleAngle":0,"titleColor":"#ef5350","titleFont":"Liberation Sans","titleFontSize":12,"titleFontWeight":"normal","titleLimit":1000}},
  "color":{"field":"k","type":"nominal","scale":{"domain":["dark","bright","cur","last"],"range":["#b22222","#ff0000","#e91e63","#ef5350"]},"legend":null}}},
{"data":{"name":"lb"},"transform":[{"filter":"datum.k != 'hdr'"}],"mark":{"type":"text","align":"left","baseline":"middle","dx":-19.5,"font":"Liberation Sans","fontSize":12,"color":"#ffffff"},
 "encoding":{
  "x":{"datum":"a","type":"nominal","scale":{"type":"band","domain":["a"],"range":[1141,1200],"paddingInner":0,"paddingOuter":0},
   "axis":{"orient":"top","labels":false,"ticks":false,"domain":false,"grid":false,"title":"H","titleX":223.1,"titleY":13,"titleAlign":"left","titleBaseline":"middle","titleAngle":0,"titleColor":"#b2b5be","titleFont":"Liberation Sans","titleFontSize":12,"titleFontWeight":"normal","titleLimit":1000}},
  "y":{"field":"t","type":"nominal","sort":null,"scale":{"type":"band","domain":["USDT","73957.6","64846.5","63643.2","61064.5","57502.3","54992.7","53504.3","52406.0","50861.6","49703.4","46228.6","40957.8","40861.7","04:54:45"],"range":[4.8,259.8],"paddingInner":0,"paddingOuter":0},
   "axis":{"orient":"left","labels":false,"ticks":false,"domain":false,"grid":false,"title":"41480.9","titleX":231.8,"titleY":13,"titleAlign":"left","titleBaseline":"middle","titleAngle":0,"titleColor":"#ef5350","titleFont":"Liberation Sans","titleFontSize":12,"titleFontWeight":"normal","titleLimit":1000}},
  "text":{"field":"t"}}},
{"data":{"name":"lb"},"transform":[{"filter":"datum.k == 'hdr'"}],
 "layer":[
  {"mark":{"type":"point","shape":"M-1,-0.48H1V0.48H-1Z","size":1225,"filled":false,"stroke":"#50535e","strokeWidth":1,"opacity":1},
   "encoding":{
    "x":{"datum":"a","type":"nominal","bandPosition":0.6,"scale":{"type":"band","domain":["a"],"range":[1141,1200],"paddingInner":0,"paddingOuter":0},
     "axis":{"orient":"top","labels":false,"ticks":false,"domain":false,"grid":false,"title":"L","titleX":278.5,"titleY":13,"titleAlign":"left","titleBaseline":"middle","titleAngle":0,"titleColor":"#b2b5be","titleFont":"Liberation Sans","titleFontSize":12,"titleFontWeight":"normal","titleLimit":1000}},
    "y":{"field":"t","type":"nominal","sort":null,"scale":{"type":"band","domain":["USDT","73957.6","64846.5","63643.2","61064.5","57502.3","54992.7","53504.3","52406.0","50861.6","49703.4","46228.6","40957.8","40861.7","04:54:45"],"range":[4.8,259.8],"paddingInner":0,"paddingOuter":0},
     "axis":{"orient":"left","labels":false,"ticks":false,"domain":false,"grid":false,"title":"40500.1","titleX":285.2,"titleY":13,"titleAlign":"left","titleBaseline":"middle","titleAngle":0,"titleColor":"#ef5350","titleFont":"Liberation Sans","titleFontSize":12,"titleFontWeight":"normal","titleLimit":1000}}}},
  {"mark":{"type":"text","align":"center","baseline":"middle","font":"Liberation Sans","fontSize":12,"color":"#b2b5be"},
   "encoding":{
    "x":{"datum":"a","type":"nominal","bandPosition":0.6,"scale":{"type":"band","domain":["a"],"range":[1141,1200],"paddingInner":0,"paddingOuter":0}},
    "y":{"field":"t","type":"nominal","sort":null,"scale":{"type":"band","domain":["USDT","73957.6","64846.5","63643.2","61064.5","57502.3","54992.7","53504.3","52406.0","50861.6","49703.4","46228.6","40957.8","40861.7","04:54:45"],"range":[4.8,259.8],"paddingInner":0,"paddingOuter":0}},
    "text":{"field":"t"}}}
 ]}
]
}
